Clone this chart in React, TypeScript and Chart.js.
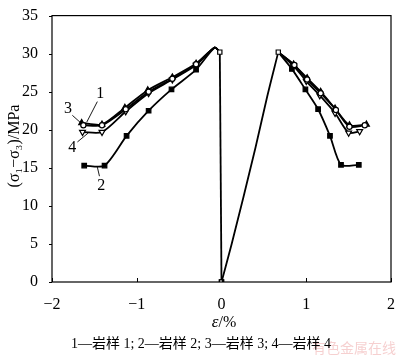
import React, { useEffect, useRef } from "react";
import { Chart, registerables } from "chart.js";
Chart.register(...registerables);

const xTicks = [-2, -1, 0, 1, 2];
const yTicks = [0, 5, 10, 15, 20, 25, 30, 35];
const caption = "1—岩样 1; 2—岩样 2; 3—岩样 3; 4—岩样 4";
const yTitle = "(σ₁−σ₃)/MPa";
const watermark = "有色金属在线";

// shared loading branches
const loadStem = [[0, 0], [-0.02, 30.2]];
const axialRise = [[0, 0], [0.12, 5.0], [0.26, 11.2], [0.4, 17.6], [0.54, 24.4], [0.67, 30.2]];
const lateralPeak = [[-0.08, 30.8], [-0.02, 30.2]];
const axialPeak = [0.67, 30.2];

// post-peak branches per sample (lateral: left, axial: right)
const s1Left = [[-1.63, 20.6], [-1.41, 20.6], [-1.13, 22.7], [-0.86, 25.0], [-0.58, 26.7], [-0.3, 28.6]];
const s1Right = [[0.86, 28.5], [1.01, 26.6], [1.17, 24.8], [1.35, 22.6], [1.51, 20.4], [1.69, 20.6]];
const s2Left = [[-1.62, 15.3], [-1.38, 15.3], [-1.12, 19.2], [-0.86, 22.5], [-0.59, 25.3], [-0.3, 27.9]];
const s2Right = [[0.83, 28.0], [0.99, 25.3], [1.14, 22.7], [1.28, 19.2], [1.41, 15.4], [1.62, 15.4]];
const s3Left = [[-1.65, 20.9], [-1.41, 20.7], [-1.14, 22.9], [-0.87, 25.2], [-0.58, 26.9], [-0.3, 28.7]];
const s3Right = [[0.85, 28.6], [1.01, 26.8], [1.17, 25.0], [1.34, 22.8], [1.51, 20.6], [1.71, 20.7]];
const s4Left = [[-1.64, 19.7], [-1.41, 19.7], [-1.13, 22.4], [-0.86, 24.8], [-0.58, 26.6], [-0.3, 28.5]];
const s4Right = [[0.85, 28.4], [1.0, 26.4], [1.16, 24.5], [1.34, 22.2], [1.5, 19.6], [1.63, 19.8]];

// callout labels: text, label position, leader start, leader end
const callouts = [
  { t: "1", at: [-1.43, 24.7], from: [-1.465, 23.7], to: [-1.59, 21.0] },
  { t: "3", at: [-1.81, 22.7], from: [-1.76, 21.9], to: [-1.66, 20.9] },
  { t: "4", at: [-1.76, 17.6], from: [-1.7, 18.4], to: [-1.57, 19.6] },
  { t: "2", at: [-1.42, 12.6], from: [-1.44, 13.9], to: [-1.465, 15.1] },
];

const SERIF = '"Liberation Serif", "Times New Roman", serif';

function buildSeries(left: number[][], right: number[][]) {
  const pts: any[] = [];
  left.forEach(([x, y]) => pts.push({ x, y, m: 1 }));
  lateralPeak.forEach(([x, y]) => pts.push({ x, y, m: 0 }));
  pts.push({ x: 0.3, y: null, m: 0 });
  pts.push({ x: axialPeak[0], y: axialPeak[1], m: 0 });
  right.forEach(([x, y]) => pts.push({ x, y, m: 1 }));
  return pts;
}

export default function App() {
  const ref = useRef<HTMLCanvasElement>(null);
  useEffect(() => {
    const ctx = ref.current!.getContext("2d")!;
    const radius = (r: number) => (c: any) => (c.raw && c.raw.m ? r : 0);
    const base = {
      borderColor: "#000",
      borderWidth: 1.8,
      tension: 0.25,
      spanGaps: false,
      pointBorderColor: "#000",
      pointBorderWidth: 1.2,
    };
    const overlay = {
      id: "overlay",
      afterDraw(chart: any) {
        const c = chart.ctx;
        const { left, right, top, bottom } = chart.chartArea;
        const xs = chart.scales.x;
        const ys = chart.scales.y;
        c.save();
        c.strokeStyle = "#000";
        c.lineWidth = 1.2;
        c.strokeRect(left, top, right - left, bottom - top);
        c.lineWidth = 1;
        c.beginPath();
        xTicks.forEach((v) => {
          const px = Math.round(xs.getPixelForValue(v)) + 0.5;
          c.moveTo(px, bottom);
          c.lineTo(px, bottom - 4);
        });
        yTicks.forEach((v) => {
          const py = Math.round(ys.getPixelForValue(v)) + 0.5;
          c.moveTo(left, py);
          c.lineTo(left - 3, py);
        });
        c.stroke();
        // callouts
        c.lineWidth = 0.9;
        c.fillStyle = "#000";
        c.font = `16px ${SERIF}`;
        c.textAlign = "center";
        c.textBaseline = "middle";
        callouts.forEach((o) => {
          c.beginPath();
          c.moveTo(xs.getPixelForValue(o.from[0]), ys.getPixelForValue(o.from[1]));
          c.lineTo(xs.getPixelForValue(o.to[0]), ys.getPixelForValue(o.to[1]));
          c.stroke();
          c.fillText(o.t, xs.getPixelForValue(o.at[0]), ys.getPixelForValue(o.at[1]));
        });
        // x title
        const cx = (left + right) / 2;
        c.font = `italic 17px ${SERIF}`;
        c.textAlign = "right";
        c.fillText("ε", cx - 3, 323);
        c.font = `16px ${SERIF}`;
        c.textAlign = "left";
        c.fillText("/%", cx - 3, 323);
        // y title
        c.save();
        c.translate(15, 146);
        c.rotate(-Math.PI / 2);
        c.textAlign = "center";
        c.font = `16px ${SERIF}`;
        c.fillText(yTitle, 0, 0);
        c.restore();
        // watermark
        c.fillStyle = "rgba(235,150,150,0.45)";
        c.font = `14px "Noto Sans CJK SC"`;
        c.textAlign = "right";
        c.fillText(watermark, 396, 348);
        // caption
        c.fillStyle = "#000";
        c.textAlign = "center";
        c.font = `14px ${SERIF}, "Noto Sans CJK SC"`;
        c.fillText(caption, 201, 344);
        c.restore();
      },
    };
    const chart = new Chart(ctx, {
      type: "line",
      data: {
        datasets: [
          {
            ...base,
            label: "stem",
            data: loadStem.map(([x, y]) => ({ x, y, m: 1 })),
            tension: 0,
            pointStyle: "rect",
            pointRadius: 3,
            pointBackgroundColor: "#fff",
          },
          {
            ...base,
            label: "rise",
            data: axialRise.map(([x, y], i) => ({ x, y, m: i === 0 || i === axialRise.length - 1 ? 1 : 0 })),
            cubicInterpolationMode: "monotone",
            pointStyle: "rect",
            pointRadius: radius(3),
            pointBackgroundColor: "#fff",
          },
          {
            ...base,
            label: "1",
            data: buildSeries(s1Left, s1Right),
            pointStyle: "circle",
            pointRadius: radius(2.6),
            pointBackgroundColor: "#fff",
          },
          {
            ...base,
            label: "2",
            data: buildSeries(s2Left, s2Right),
            pointStyle: "rect",
            pointRadius: radius(3.2),
            pointBackgroundColor: "#000",
          },
          {
            ...base,
            label: "3",
            data: buildSeries(s3Left, s3Right),
            pointStyle: "triangle",
            pointRadius: radius(3.4),
            pointBackgroundColor: "#000",
          },
          {
            ...base,
            label: "4",
            data: buildSeries(s4Left, s4Right),
            pointStyle: "triangle",
            rotation: 180,
            pointRadius: radius(3.4),
            pointBackgroundColor: "#fff",
          },
        ],
      },
      options: {
        animation: false,
        responsive: false,
        maintainAspectRatio: false,
        layout: { padding: { left: 0, right: 4, top: 5, bottom: 0 } },
        plugins: { legend: { display: false }, tooltip: { enabled: false } },
        scales: {
          x: {
            type: "linear",
            min: -2,
            max: 2,
            afterBuildTicks: (s: any) => { s.ticks = xTicks.map((v) => ({ value: v })); },
            afterFit: (s: any) => { s.height = 74; },
            grid: { display: false },
            border: { display: false },
            ticks: {
              color: "#000",
              padding: 5,
              font: { family: SERIF, size: 16 },
              callback: (v: any) => (Number(v) < 0 ? "−" + Math.abs(Number(v)) : String(v)),
            },
          },
          y: {
            type: "linear",
            min: 0,
            max: 35,
            afterBuildTicks: (s: any) => { s.ticks = yTicks.map((v) => ({ value: v })); },
            afterFit: (s: any) => { s.width = 52; },
            grid: { display: false },
            border: { display: false },
            ticks: {
              color: "#000",
              padding: 6,
              font: { family: SERIF, size: 16 },
            },
          },
        },
      },
      plugins: [overlay],
    } as any);
    return () => chart.destroy();
  }, []);
  return (
    <div style={{ position: "fixed", left: 0, top: 0, width: 400, height: 356, background: "#fff" }}>
      <canvas ref={ref} width={400} height={356} style={{ display: "block" }} />
    </div>
  );
}
